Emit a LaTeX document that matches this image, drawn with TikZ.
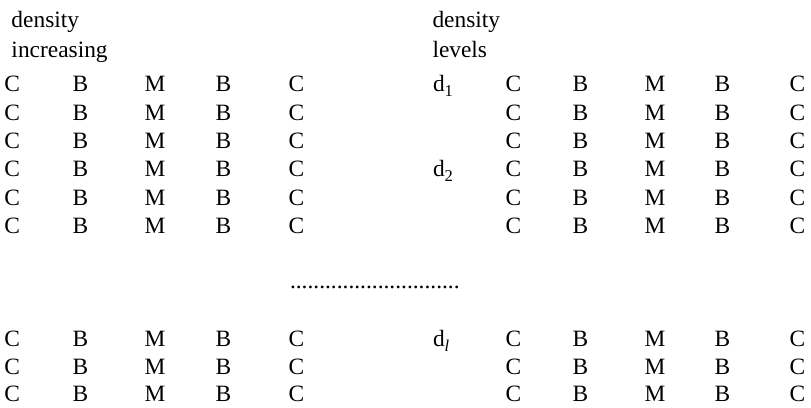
\documentclass[tikz,border=0pt]{standalone}
\usepackage{fontspec}
\setmainfont{Liberation Serif}
\newcommand{\subtxt}[1]{\raisebox{-0.22em}{\fontsize{16.5}{18}\selectfont #1}}
\begin{document}
\begin{tikzpicture}[x=1pt,y=-1pt,
  lbl/.style={anchor=base west,inner sep=0pt,outer sep=0pt,font=\fontsize{23.4}{28}\selectfont}]
\useasboundingbox (0,0) rectangle (811,407);
% headers
\node[lbl] (h1) at (11.5,27.3) {density};
\node[lbl] (h2) at (11.5,57.3) {increasing};
\node[lbl] (h3) at (432.5,27.3) {density};
\node[lbl] (h4) at (432.5,57.3) {levels};
% left block
\foreach \y [count=\r] in {91.7,120,148.3,176.7,205,233.3,346.7,374.3,401.8}{
  \node[lbl] (La\r) at (4.5,\y) {C};
  \node[lbl] (Lb\r) at (72.5,\y) {B};
  \node[lbl] (Lc\r) at (144.5,\y) {M};
  \node[lbl] (Ld\r) at (215.5,\y) {B};
  \node[lbl] (Le\r) at (288.5,\y) {C};
  \node[lbl] (Ra\r) at (505.5,\y) {C};
  \node[lbl] (Rb\r) at (572.5,\y) {B};
  \node[lbl] (Rc\r) at (644.5,\y) {M};
  \node[lbl] (Rd\r) at (714.5,\y) {B};
  \node[lbl] (Re\r) at (789.5,\y) {C};
}
\node[lbl] (d1) at (433,91.7) {d\subtxt{1}};
\node[lbl] (d2) at (433,176.7) {d\subtxt{2}};
\node[lbl] (dl) at (433,346.7) {d\subtxt{\itshape l}};
\node[lbl] (dots) at (290,288) {.............................};
\end{tikzpicture}
\end{document}
